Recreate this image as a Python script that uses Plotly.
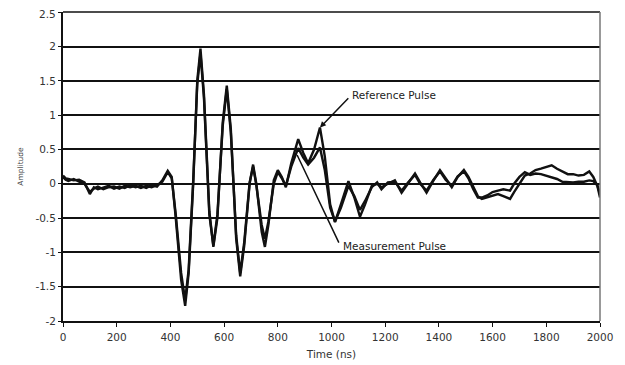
import plotly.graph_objects as go

# Time (ns) and amplitude readings
ref_t = [0, 10, 20, 40, 60, 80, 100, 115, 130, 150, 170, 190, 210, 230, 250, 270, 290, 310, 330, 350, 370,
         390, 405, 420, 440, 455, 468, 485, 500, 512, 525, 545, 560, 575, 595, 610, 625, 645, 660, 675, 695,
         708, 720, 740, 752, 765, 785, 800, 815, 830, 850, 876, 895, 913, 935, 957, 975, 995, 1013, 1035,
         1063, 1085, 1106, 1125, 1150, 1170, 1186, 1210, 1236, 1261, 1285, 1311, 1330, 1354, 1380, 1404,
         1425, 1448, 1470, 1493, 1510, 1528, 1545, 1560, 1580, 1600, 1620, 1640, 1665, 1680, 1700, 1720,
         1740, 1760, 1780, 1800, 1820, 1840, 1860, 1880, 1900, 1920, 1940, 1960, 1975, 1990, 2000]
ref_a = [0.12, 0.08, 0.07, 0.05, 0.06, 0.02, -0.15, -0.05, -0.08, -0.06, -0.03, -0.07, -0.04, -0.06, -0.02,
         -0.05, -0.03, -0.06, -0.02, -0.04, 0.05, 0.19, 0.1, -0.5, -1.4, -1.78, -1.3, 0.0, 1.5, 1.97, 1.3,
         -0.4, -0.92, -0.5, 0.9, 1.43, 0.8, -0.8, -1.35, -0.9, 0.0, 0.28, 0.0, -0.7, -0.92, -0.6, 0.05, 0.2,
         0.1, -0.05, 0.3, 0.65, 0.45, 0.3, 0.5, 0.82, 0.4, -0.3, -0.56, -0.3, 0.04, -0.2, -0.48, -0.3, -0.03,
         0.0, -0.05, 0.0, 0.05, -0.13, 0.0, 0.15, 0.02, -0.13, 0.05, 0.2, 0.08, -0.05, 0.1, 0.2, 0.1, -0.05,
         -0.18, -0.22, -0.2, -0.18, -0.15, -0.18, -0.22, -0.12, 0.0, 0.12, 0.15, 0.2, 0.22, 0.24, 0.27, 0.22,
         0.18, 0.14, 0.14, 0.12, 0.13, 0.18, 0.1, -0.03, -0.2]

meas_t = [0, 10, 20, 40, 60, 80, 100, 115, 130, 150, 170, 190, 210, 230, 250, 270, 290, 310, 330, 350, 370,
          390, 405, 420, 440, 455, 468, 485, 500, 512, 525, 545, 560, 575, 595, 610, 625, 645, 660, 675, 695,
          708, 720, 740, 752, 765, 785, 800, 815, 830, 850, 876, 895, 913, 935, 957, 975, 995, 1013, 1035,
          1063, 1085, 1106, 1125, 1150, 1170, 1186, 1210, 1236, 1261, 1285, 1311, 1330, 1354, 1380, 1404,
          1425, 1448, 1470, 1493, 1510, 1528, 1545, 1560, 1580, 1600, 1620, 1640, 1665, 1680, 1700, 1720,
          1740, 1760, 1780, 1800, 1820, 1840, 1860, 1880, 1900, 1920, 1940, 1960, 1975, 1990, 2000]
meas_a = [0.1, 0.06, 0.04, 0.07, 0.03, 0.0, -0.12, -0.07, -0.04, -0.08, -0.05, -0.04, -0.07, -0.03, -0.05,
          -0.03, -0.06, -0.03, -0.05, -0.02, 0.03, 0.17, 0.08, -0.45, -1.3, -1.7, -1.25, 0.05, 1.45, 1.9, 1.25,
          -0.45, -0.9, -0.45, 0.85, 1.38, 0.75, -0.75, -1.3, -0.85, 0.02, 0.25, -0.02, -0.6, -0.8, -0.55, 0.0,
          0.17, 0.08, -0.03, 0.25, 0.52, 0.38, 0.28, 0.38, 0.53, 0.2, -0.35, -0.55, -0.35, -0.03, -0.18, -0.38,
          -0.25, -0.05, 0.02, -0.08, 0.02, 0.03, -0.1, 0.02, 0.13, 0.0, -0.1, 0.06, 0.18, 0.06, -0.03, 0.11,
          0.18, 0.08, -0.08, -0.2, -0.2, -0.17, -0.12, -0.1, -0.08, -0.1, 0.0, 0.1, 0.17, 0.13, 0.15, 0.14,
          0.12, 0.09, 0.07, 0.03, 0.02, 0.02, 0.03, 0.03, 0.05, 0.04, -0.02, -0.15]

x_ticks = [0, 200, 400, 600, 800, 1000, 1200, 1400, 1600, 1800, 2000]
y_ticks = [-2, -1.5, -1, -0.5, 0, 0.5, 1, 1.5, 2, 2.5]
y_labels = ["-2", "-1.5", "-1", "-0.5", "0", "0.5", "1", "1.5", "2", ""]
y_top_label = "2.5"

fig = go.Figure()
fig.add_trace(go.Scatter(x=meas_t, y=meas_a, mode="lines", name="Measurement Pulse",
                         line=dict(color="#111111", width=2.4)))
fig.add_trace(go.Scatter(x=ref_t, y=ref_a, mode="lines", name="Reference Pulse",
                         line=dict(color="#111111", width=2.4)))

fam = "DejaVu Sans, sans-serif"
tickfont = dict(family=fam, size=10.5, color="#333333")
notefont = dict(family=fam, size=10.5, color="#222222")

fig.update_layout(
    width=625, height=365,
    margin=dict(l=55, r=33, t=4, b=52),
    paper_bgcolor="white", plot_bgcolor="white",
    showlegend=False,
    font=tickfont,
    xaxis=dict(range=[0, 2000], tickvals=x_ticks, ticks="outside", ticklen=4, tickcolor="#111",
               showgrid=False, zeroline=False, showline=True, linecolor="#111", linewidth=2,
               mirror=False, automargin=False, ticklabelstandoff=1, ticklabeloverflow="allow",
               title=dict(text="Time (ns)", font=dict(family=fam, size=10.5, color="#333"), standoff=9),
               tickfont=tickfont),
    yaxis=dict(range=[-2, 2.504], tickvals=y_ticks, ticktext=y_labels, ticks="outside", ticklen=3,
               tickcolor="#111", showgrid=True, gridcolor="#111", gridwidth=1.5,
               zeroline=False, showline=True, linecolor="#111", linewidth=2, automargin=False,
               ticklabeloverflow="allow",
               title=dict(text="Amplitude", font=dict(family=fam, size=7.5, color="#444"), standoff=11),
               tickfont=tickfont),
)

# top tick label kept inside the page edge
fig.add_annotation(x=0, y=y_ticks[-1], xref="paper", yref="y", text=y_top_label, showarrow=False,
                   xanchor="right", yanchor="middle", xshift=-5, yshift=-2, font=tickfont)

# top and right border
fig.add_shape(type="line", xref="paper", yref="paper", x0=0, x1=1, y0=1, y1=1,
              line=dict(color="#111111", width=1.5))
fig.add_shape(type="line", xref="paper", yref="paper", x0=1, x1=1, y0=0, y1=1,
              line=dict(color="#777777", width=1.5))

# annotations
fig.add_annotation(x=957, y=0.82, ax=1068, ay=1.27, axref="x", ayref="y", xref="x", yref="y",
                   text="", showarrow=True, arrowhead=2, arrowsize=0.8, arrowwidth=1.5, arrowcolor="#111")
fig.add_annotation(x=1070, y=1.29, xref="x", yref="y", text="Reference Pulse", showarrow=False,
                   xanchor="left", yanchor="middle", font=notefont)
fig.add_annotation(x=872, y=0.42, ax=1030, ay=-0.88, axref="x", ayref="y", xref="x", yref="y",
                   text="", showarrow=True, arrowhead=0, arrowwidth=1.5, arrowcolor="#111")
fig.add_annotation(x=1035, y=-0.9, xref="x", yref="y", text="Measurement Pulse", showarrow=False,
                   xanchor="left", yanchor="middle", font=notefont)

fig.write_html("out.html")
